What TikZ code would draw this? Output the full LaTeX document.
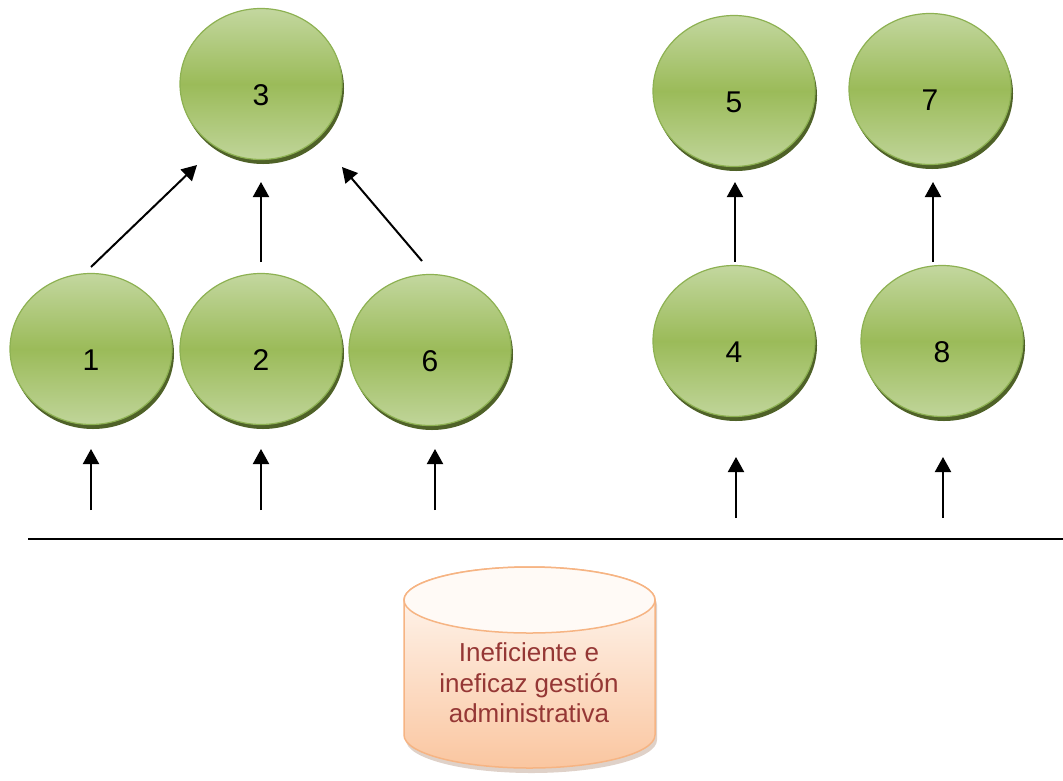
\documentclass[tikz,border=0pt]{standalone}
\usepackage{fontspec}
\setmainfont{Liberation Sans}
\usetikzlibrary{arrows.meta,calc,shadows,shapes.geometric}

\definecolor{ballLight}{HTML}{C3D79F}
\definecolor{ballMid}{HTML}{9BBB59}
\definecolor{ballEdge}{HTML}{8DB152}
\definecolor{ballShade}{HTML}{4F6228}
\definecolor{tankTop}{HTML}{FFFAF6}
\definecolor{tankBottom}{HTML}{FAC6A0}
\definecolor{tankEdge}{HTML}{F6B483}
\definecolor{tankShade}{HTML}{B89A86}
\definecolor{tankText}{HTML}{953735}

\begin{document}
\begin{tikzpicture}[x=1pt,y=-1pt,
  ball/.style={ellipse, minimum width=162pt, minimum height=151pt, inner sep=0pt,
    draw=ballEdge, line width=1.2pt,
    top color=ballLight, bottom color=ballLight!92!ballMid, middle color=ballMid,
    general shadow={fill=ballShade, shadow xshift=2pt, shadow yshift=-4.5pt},
    font=\fontsize{30}{30}\selectfont, text height=42pt, text depth=0pt},
  arr/.style={line width=2pt, -{Triangle[width=16pt,length=15pt]}},
  ground/.style={line width=2pt},
]
\useasboundingbox (0,0) rectangle (1063,780);

% circles
\node[ball] (n3) at (261,84)  {3};
\node[ball] (n1) at (91,349)  {1};
\node[ball] (n2) at (261,349) {2};
\node[ball] (n6) at (430,350) {6};
\node[ball] (n5) at (734,91)  {5};
\node[ball] (n7) at (930,89)  {7};
\node[ball] (n4) at (734,341) {4};
\node[ball] (n8) at (942,341) {8};

% arrows between circles
\draw[arr] ($(n1)+(0,-82)$) -- ($(n3)+(-64,81)$);
\draw[arr] ($(n2)+(0,-87)$) -- ($(n3)+(0,98)$);
\draw[arr] ($(n6)+(-8,-89)$) -- ($(n3)+(81,83)$);
\draw[arr] ($(n4)+(1,-79)$) -- ($(n5)+(1,91)$);
\draw[arr] ($(n8)+(-9,-79)$) -- ($(n7)+(3,93)$);

% arrows rising from the ground line
\coordinate (s1) at (91,510);
\coordinate (s2) at (261,510);
\coordinate (s6) at (435,510);
\coordinate (s4) at (736,518);
\coordinate (s8) at (943,518);
\draw[arr] (s1) -- ($(n1)+(0,100)$);
\draw[arr] (s2) -- ($(n2)+(0,100)$);
\draw[arr] (s6) -- ($(n6)+(5,99)$);
\draw[arr] (s4) -- ($(n4)+(2,116)$);
\draw[arr] (s8) -- ($(n8)+(1,116)$);

% ground line
\coordinate (gl) at (28,539);
\coordinate (gr) at (1063,539);
\draw[ground] (gl) -- (gr);

% cylinder: shadow, body, lid
\fill[tankShade, opacity=0.45, xshift=2pt, yshift=-5pt]
  (404,600) -- (404,735) arc[start angle=180, end angle=360, x radius=125.5pt, y radius=33pt]
  -- (655,600) arc[start angle=0, end angle=180, x radius=125.5pt, y radius=33pt] -- cycle;
\path[draw=tankEdge, line width=1.5pt, top color=tankTop, bottom color=tankBottom]
  (404,600) -- (404,735) arc[start angle=180, end angle=360, x radius=125.5pt, y radius=33pt]
  -- (655,600) arc[start angle=0, end angle=180, x radius=125.5pt, y radius=33pt] -- cycle;
\draw[draw=tankEdge, line width=1.5pt, fill=tankTop]
  (529.5,600) ellipse[x radius=125.5pt, y radius=33pt];
\node[text=tankText, align=center, font=\fontsize{26}{30.5}\selectfont] (problem) at (529,683)
  {Ineficiente e\\ineficaz gestión\\administrativa};
\end{tikzpicture}
\end{document}
